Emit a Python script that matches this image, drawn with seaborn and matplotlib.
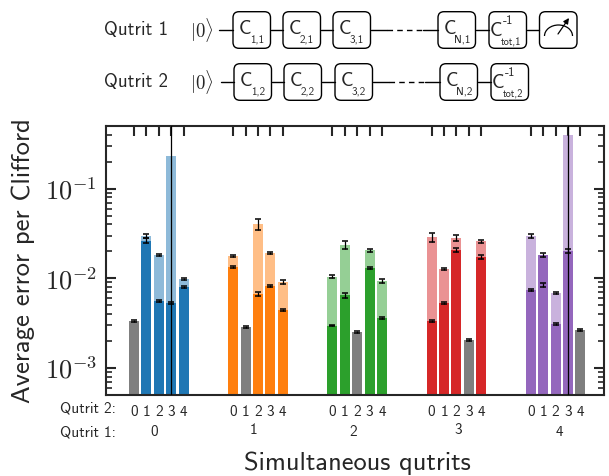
import numpy as np
import pandas as pd
import matplotlib
matplotlib.use('Agg')
import matplotlib.pyplot as plt
import seaborn as sns
from matplotlib.patches import FancyBboxPatch, Arc

# Values, rows are qutrit 1, columns qutrit 2
dark = [
    [3.35e-3, 0.0263, 5.57e-3, 5.34e-3, 8.05e-3],
    [0.01337, 2.88e-3, 6.68e-3, 8.27e-3, 4.42e-3],
    [2.96e-3, 6.5e-3, 2.53e-3, 0.0130, 3.63e-3],
    [3.33e-3, 5.3e-3, 0.0207, 2.05e-3, 0.0173],
    [7.4e-3, 0.0182, 3.06e-3, 0.0202, 2.64e-3],
]
dark_err = [
    [6e-5, 1.8e-3, 1e-4, 1.2e-4, 2e-4],
    [4e-4, 8e-5, 3e-4, 2e-4, 1.2e-4],
    [5e-5, 4e-4, 6e-5, 4e-4, 1e-4],
    [7e-5, 1.5e-4, 1.1e-3, 5e-5, 7e-4],
    [1.5e-4, 8e-4, 8e-5, 1.2e-3, 6e-5],
]
light = [
    [np.nan, 0.0297, 0.0182, 0.232, 9.9e-3],
    [0.01775, np.nan, 0.0404, 0.0192, 9.1e-3],
    [0.0104, 0.0236, np.nan, 0.0207, 9.3e-3],
    [0.0289, 0.0127, 0.0282, np.nan, 0.0261],
    [0.0297, 8.4e-3, 6.85e-3, 0.40, np.nan],
]
light_err = [
    [np.nan, 1.8e-3, 5e-4, 0.5, 2.5e-4],
    [6e-4, np.nan, 6e-3, 6e-4, 5e-4],
    [4e-4, 2.6e-3, np.nan, 8e-4, 5e-4],
    [3.2e-3, 4e-4, 2e-3, np.nan, 1e-3],
    [1.3e-3, 4e-4, 1.5e-4, 0.9, np.nan],
]
qutrit_labels = ['0', '1', '2', '3', '4']
group_colors = ['tab:blue', 'tab:orange', 'tab:green', 'tab:red', 'tab:purple']

# Circuit diagram, in figure pixels
row1_boxes = [233, 283, 333, 438, 489, 539]
row2_boxes = [234, 284, 335, 440, 491]
row1_subs = ['1,1', '2,1', '3,1', 'N,1', 'tot,1']
row2_subs = ['1,2', '2,2', '3,2', 'N,2', 'tot,2']

sns.set_style('ticks')
plt.rcParams['font.family'] = ['cmss10', 'DejaVu Sans']
plt.rcParams['mathtext.fontset'] = 'cm'
plt.rcParams['axes.unicode_minus'] = False

rows = []
for q1 in range(5):
    for q2 in range(5):
        kind = 'same' if q1 == q2 else str(q1)
        rows.append({'pos': 8 * q1 + q2, 'kind': kind, 'dark': dark[q1][q2], 'dark_err': dark_err[q1][q2],
                     'light': light[q1][q2], 'light_err': light_err[q1][q2]})
df = pd.DataFrame(rows)

palette = {str(i): c for i, c in enumerate(group_colors)}
palette['same'] = 'tab:gray'

fig = plt.figure(figsize=(6.09, 4.76), dpi=100)
ax = fig.add_axes([105.5 / 609, 81 / 476, 498.5 / 609, 269 / 476])
ax.set_yscale('log')

bar_style = dict(x='pos', hue='kind', palette=palette, native_scale=True, dodge=False, width=0.8, saturation=1,
                 errorbar=None, legend=False, edgecolor='none', linewidth=0, ax=ax)
sns.barplot(data=df, y='light', alpha=0.5, **bar_style)
sns.barplot(data=df, y='dark', **bar_style)

err_style = dict(fmt='none', ecolor='k', elinewidth=0.9, capsize=2.5, capthick=1.1, zorder=5)
ax.errorbar(df['pos'], df['light'], yerr=df['light_err'], **err_style)
ax.errorbar(df['pos'], df['dark'], yerr=df['dark_err'], **err_style)

ax.set_xlim(-2.3, 37.9)
ax.set_ylim(5e-4, 0.5)
ax.set_yticks([1e-3, 1e-2, 1e-1], ['$10^{-3}$', '$10^{-2}$', '$10^{-1}$'], fontsize=19)
ax.set_xticks(df['pos'], qutrit_labels * 5, fontsize=11)
ax.tick_params(axis='both', which='major', direction='in', top=True, right=True, length=7, width=1.5)
ax.tick_params(axis='y', which='minor', direction='in', right=True, length=4, width=1.2)
ax.tick_params(axis='x', which='major', pad=7)
ax.tick_params(axis='y', which='major', pad=6)
ax.set_xlabel('')
ax.set_ylabel('')
for s in ax.spines.values():
    s.set_linewidth(1.5)

# Overlay for the circuit and the loose labels
over = fig.add_axes([0, 0, 1, 1])
over.set_xlim(0, 609)
over.set_ylim(476, 0)
over.axis('off')

fig.text(23 / 609, 1 - 261 / 476, 'Average error per Clifford', rotation=90, fontsize=19.2, ha='center', va='center')
fig.text(357 / 609, 1 - 463 / 476, 'Simultaneous qutrits', fontsize=19, ha='center', va='center')
over.text(116, 409, 'Qutrit 2:', fontsize=11, ha='right', va='center')
over.text(116, 432, 'Qutrit 1:', fontsize=11, ha='right', va='center')
for lab, x, y in zip(qutrit_labels, [154, 253, 353, 458, 559], [432, 430, 432, 430, 432]):
    over.text(x, y, lab, fontsize=11, ha='center', va='center')


def draw_row(name, y, start, boxes, subs):
    over.text(104, y, name, fontsize=13.5, ha='left', va='center')
    over.text(190, y, r'$|0\rangle$', fontsize=13.5, ha='left', va='center')
    w = 37.5
    ends = [start] + [b + w for b in boxes]
    for a, b in zip(ends[:3], boxes[:3]):
        over.plot([a, b], [y, y], color='k', lw=1)
    over.plot([boxes[2] + w, boxes[2] + w + 16], [y, y], color='k', lw=1)
    over.plot([boxes[2] + w + 16, boxes[3] - 15], [y, y], color='k', lw=1, ls=(0, (4, 3)))
    over.plot([boxes[3] - 15, boxes[3]], [y, y], color='k', lw=1)
    over.plot([boxes[3] + w, boxes[4]], [y, y], color='k', lw=1)
    for b, sub in zip(boxes, subs):
        over.add_patch(FancyBboxPatch((b, y - 18.3), w, 36.6, boxstyle='round,pad=0,rounding_size=6',
                                      fc='w', ec='k', lw=1))
        if sub.startswith('tot'):
            over.text(b + 0.5, y + 1, 'C', fontsize=14, ha='left', va='center')
            over.text(b + 19, y - 9, '-1', fontsize=9, ha='center', va='center')
            over.text(b + 22, y + 11, sub, fontsize=7.5, ha='center', va='center')
        else:
            over.text(b + 6, y - 1, 'C', fontsize=14, ha='left', va='center')
            over.text(b + 24, y + 10, sub, fontsize=8, ha='center', va='center')


draw_row('Qutrit 1', 30, 219, row1_boxes[:5], row1_subs)
draw_row('Qutrit 2', 82, 221, row2_boxes, row2_subs)

# Measurement box on the first row
over.plot([526.5, 539], [30, 30], color='k', lw=1)
over.add_patch(FancyBboxPatch((539.5, 11.7), 37.5, 36.6, boxstyle='round,pad=0,rounding_size=6',
                              fc='w', ec='k', lw=1))
over.add_patch(Arc((558.5, 36), 28, 22, theta1=180, theta2=360, ec='k', lw=0.9))
over.annotate('', xy=(569, 18), xytext=(558, 34),
              arrowprops=dict(arrowstyle='-|>', color='k', lw=0.9, mutation_scale=8, shrinkA=0, shrinkB=0))

fig.savefig('out.png', dpi=100)
